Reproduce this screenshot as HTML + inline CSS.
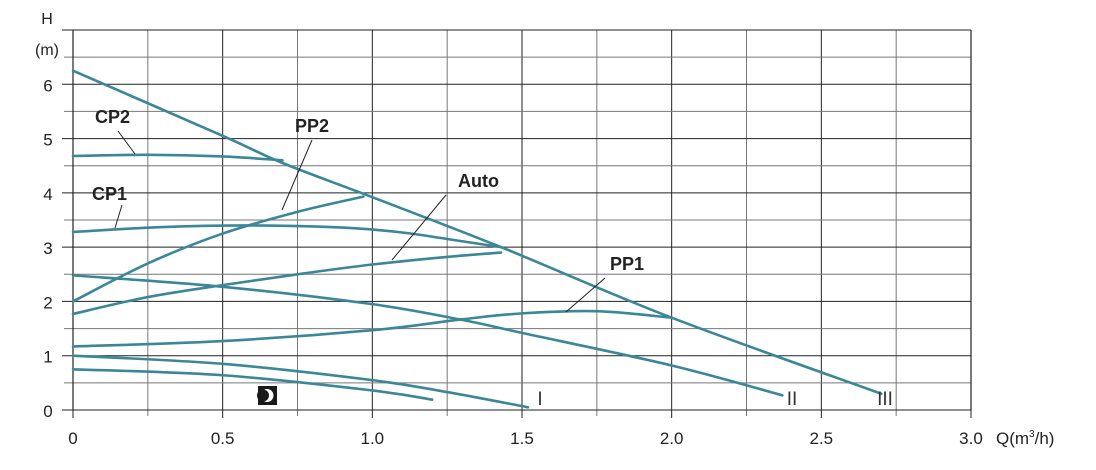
<!DOCTYPE html>
<html><head><meta charset="utf-8"><style>
body{margin:0;background:#fff;}
svg{display:block;font-family:"Liberation Sans",sans-serif;}
</style></head><body>
<svg id="chart" width="1096" height="470"></svg>
<script>
const xTicks=[0,0.5,1.0,1.5,2.0,2.5,3.0];
const xTickLabels=["0","0.5","1.0","1.5","2.0","2.5","3.0"];
const yTicks=[0,1,2,3,4,5,6];
const yTickLabels=["0","1","2","3","4","5","6"];
const seriesNames=["III","CP2","PP2","CP1","Auto","II","PP1","I","night"];
const qIII=[0,0.5,0.7,1.0,1.43,2.0,2.7];
const hIII=[6.25,5.05,4.55,3.92,3.0,1.7,0.3];
const qCP2=[0,0.25,0.5,0.7];
const hCP2=[4.68,4.7,4.67,4.6];
const qPP2=[0,0.25,0.5,0.75,0.97];
const hPP2=[2.0,2.7,3.25,3.65,3.93];
const qCP1=[0,0.3,0.6,0.9,1.1,1.25,1.43];
const hCP1=[3.28,3.37,3.4,3.36,3.27,3.15,3.0];
const qAuto=[0,0.25,0.5,0.75,1.0,1.25,1.43];
const hAuto=[1.77,2.08,2.3,2.5,2.68,2.82,2.9];
const qII=[0,0.5,1.0,1.3,1.5,2.0,2.37];
const hII=[2.48,2.27,1.95,1.66,1.42,0.82,0.27];
const qPP1=[0,0.5,1.0,1.3,1.5,1.75,2.0];
const hPP1=[1.17,1.27,1.47,1.67,1.78,1.82,1.7];
const qI=[0,0.5,1.0,1.25,1.52];
const hI=[1.0,0.85,0.55,0.33,0.05];
const qNight=[0,0.5,1.0,1.2];
const hNight=[0.75,0.64,0.36,0.19];

const X0=73,X1=971,Y0=410,YT=30;
const sx=q=>X0+q/3*(X1-X0);
const sy=h=>Y0-h/7*(Y0-YT);
const NS="http://www.w3.org/2000/svg";
const svg=document.getElementById("chart");
function mk(tag,attrs,parent){const e=document.createElementNS(NS,tag);for(const k in attrs)e.setAttribute(k,attrs[k]);(parent||svg).appendChild(e);return e;}

const grid=mk("g",{});


for(let i=0;i<=12;i++){const q=i*0.25;const l=mk("line",{x1:sx(q),x2:sx(q),y1:YT,y2:Y0+(i%2==0?8:6),stroke:i%2==0?"#222":"#777","stroke-width":1},grid);

}
for(let i=0;i<=14;i++){const h=i*0.5;const l=mk("line",{x1:X0-(i%2==0?11:9),x2:X1,y1:sy(h),y2:sy(h),stroke:i%2==0?"#222":"#777","stroke-width":1},grid);

}
mk("line",{x1:X1,x2:X1,y1:YT,y2:Y0,stroke:"#222","stroke-width":1.2},grid);
mk("line",{x1:X0,x2:X0,y1:YT,y2:Y0,stroke:"#222","stroke-width":1.2},grid);

xTicks.forEach((q,i)=>{const t=mk("text",{x:sx(q),y:444,"text-anchor":"middle","font-size":17,fill:"#222"});t.textContent=xTickLabels[i];

});
yTicks.forEach((h,i)=>{const t=mk("text",{x:48,y:sy(h)+7,"text-anchor":"middle","font-size":17,fill:"#222"});t.textContent=yTickLabels[i];

});
let t=mk("text",{x:47,y:24,"text-anchor":"middle","font-size":16,fill:"#222"});t.textContent="H";


t=mk("text",{x:47,y:55,"text-anchor":"middle","font-size":16,fill:"#222"});t.textContent="(m)";


t=mk("text",{x:996,y:444,"font-size":17,fill:"#222"});t.innerHTML='Q(m<tspan dy="-7" font-size="10">3</tspan><tspan dy="7">/h)</tspan>';



function pathFor(qs,hs){const p=qs.map((q,i)=>[sx(q),sy(hs[i])]);let d="M"+p[0][0]+","+p[0][1];
for(let i=0;i<p.length-1;i++){const a=p[Math.max(0,i-1)],b=p[i],c=p[i+1],e=p[Math.min(p.length-1,i+2)];
d+=" C"+(b[0]+(c[0]-a[0])/6)+","+(b[1]+(c[1]-a[1])/6)+" "+(c[0]-(e[0]-b[0])/6)+","+(c[1]-(e[1]-b[1])/6)+" "+c[0]+","+c[1];}return d;}
const allQ=[qIII,qCP2,qPP2,qCP1,qAuto,qII,qPP1,qI,qNight];
const allH=[hIII,hCP2,hPP2,hCP1,hAuto,hII,hPP1,hI,hNight];
allQ.forEach((qs,i)=>{const p=mk("path",{d:pathFor(qs,allH[i]),fill:"none",stroke:"#3a8797","stroke-width":2.6,"stroke-linecap":"round"});

});

function label(txt,x,y,lx1,ly1,lx2,ly2,name){const g=mk("g",{});


const tt=mk("text",{x:x,y:y,"font-size":18,"font-weight":"bold",fill:"#222"},g);tt.textContent=txt;
mk("line",{x1:lx1,y1:ly1,x2:lx2,y2:ly2,stroke:"#222","stroke-width":1},g);}
label("CP2",95,123,118,131,135,154,"label-cp2");
label("PP2",295,132,312,140,282,210,"label-pp2");
label("Auto",458,187,446,195,392,260,"label-auto");
label("CP1",92,200,122,205,115,228,"label-cp1");
label("PP1",610,270,605,278,566,312,"label-pp1");

function speed(txt,x,name){const s=mk("text",{x:x,y:405,"font-size":19,fill:"#333","text-anchor":"middle","font-family":"Liberation Sans Narrow, Liberation Sans, sans-serif"});s.textContent=txt;

}
speed("I",540,"speed-label-1");
speed("II",792,"speed-label-2");
speed("III",885,"speed-label-3");

const moon=mk("g",{});


mk("rect",{x:258,y:386,width:19,height:19,fill:"#1a1a1a"},moon);
mk("circle",{cx:267,cy:395.5,r:6.5,fill:"#fff"},moon);
mk("circle",{cx:263,cy:395.5,r:6,fill:"#1a1a1a"},moon);
</script>
</body></html>
